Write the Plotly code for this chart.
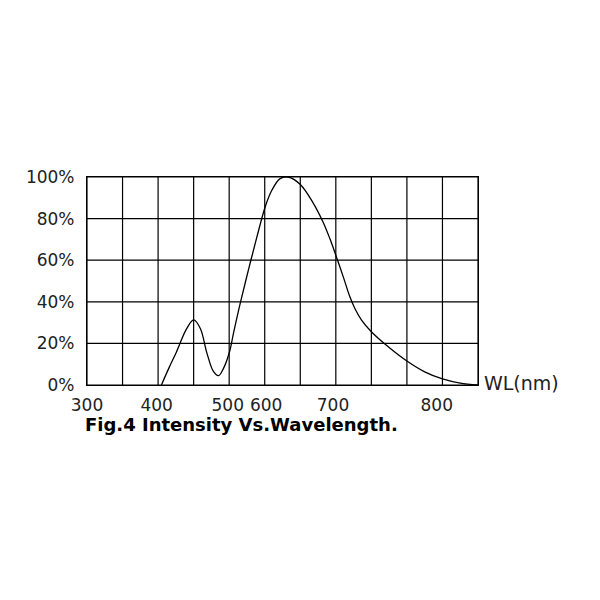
import plotly.graph_objects as go

wavelength = [404.7, 415, 426, 440, 450, 459.4, 468.8, 478, 485, 492, 500.5, 506, 515.5, 527,
              539, 550.6, 560, 571.6, 583, 600, 618, 632, 641.6, 650, 660.5, 669.8, 676.8,
              686.2, 700, 725, 750, 775, 800, 825, 850]
intensity = [0, 8, 16, 27, 31.3, 27.2, 15.2, 6.4, 4.5, 8, 16, 24.8, 39.2, 55.2,
             71.2, 85.6, 93.6, 99.2, 100, 96.4, 87.6, 78.4, 70.4, 62.4, 52, 42.4, 36.8,
             31.2, 25.6, 18, 11.5, 6.3, 2.9, 0.9, 0]

x_tick_vals = [300, 398, 498, 552, 646, 792]
x_tick_text = ["300", "400", "500", "600", "700", "800"]
y_tick_vals = [0, 20, 40, 60, 80, 100]
y_tick_text = ["0%", "20%", "40%", "60%", "80%", "100%"]
x_grid = list(range(300, 851, 50))

fig = go.Figure()
fig.add_trace(go.Scatter(x=wavelength, y=intensity, mode="lines",
                         line=dict(color="black", width=1.3, shape="spline", smoothing=1),
                         hoverinfo="skip", showlegend=False))

for gx in x_grid:
    fig.add_vline(x=gx, line=dict(color="black", width=1.2), layer="below")
for gy in y_tick_vals:
    fig.add_hline(y=gy, line=dict(color="black", width=1.2), layer="below")

fig.add_annotation(x=1, y=0, xref="paper", yref="y", text="WL(nm)", showarrow=False,
                   xanchor="left", yanchor="middle", xshift=4, yshift=2,
                   font=dict(family="DejaVu Sans", size=19, color="#222"))
fig.add_annotation(x=0, y=-0.19, xref="paper", yref="paper", text="<b>Fig.4 Intensity Vs.Wavelength.</b>",
                   showarrow=False, xanchor="left", yanchor="middle", xshift=-4,
                   font=dict(family="DejaVu Sans", size=18, color="black"))

fig.update_layout(
    width=600, height=600,
    margin=dict(l=79, r=130, t=169, b=223),
    paper_bgcolor="white", plot_bgcolor="white",
    font=dict(family="DejaVu Sans", size=17, color="#222"),
    xaxis=dict(range=[300, 850], tickvals=x_tick_vals, ticktext=x_tick_text,
               showgrid=False, zeroline=False, showline=True, linecolor="black", linewidth=1.2,
               mirror=True, ticks="", ticklabelstandoff=4, fixedrange=True),
    yaxis=dict(range=[0, 100], tickvals=y_tick_vals, ticktext=y_tick_text,
               showgrid=False, zeroline=False, showline=True, linecolor="black", linewidth=1.2,
               mirror=True, ticks="", ticklabelstandoff=8, fixedrange=True),
)

fig.write_html("out.html")
